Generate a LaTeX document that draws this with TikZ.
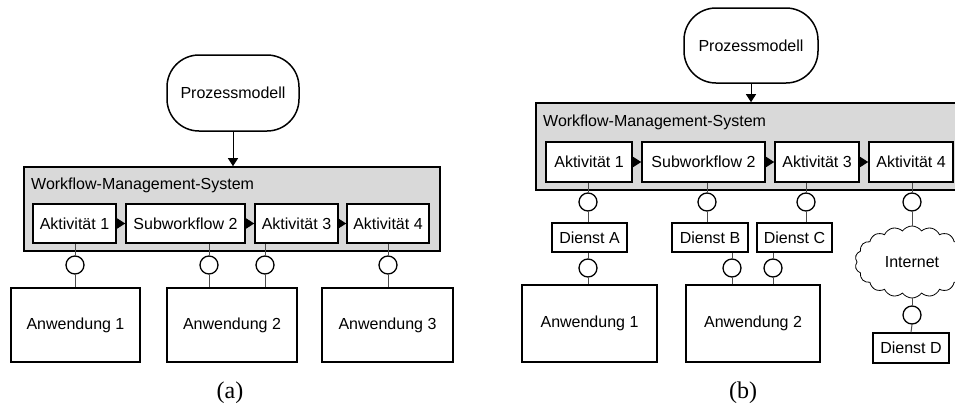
\documentclass[tikz,border=0pt]{standalone}
\usepackage{fontspec}
\newfontfamily\diagfont{Liberation Sans}
\newfontfamily\capfont{Liberation Serif}
\usetikzlibrary{arrows.meta,shapes.symbols}

\tikzset{
  every node/.style={inner sep=0pt},
  diag/.style={font=\diagfont\fontsize{16}{19}\selectfont},
  wms/.style={draw, fill=black!15, line width=1.6pt},
  wmslabel/.style={diag, anchor=west},
  act/.style={diag, draw, fill=white, line width=1.6pt},
  appbox/.style={diag, draw, fill=white, line width=1.6pt},
  svc/.style={diag, draw, fill=white, line width=1.5pt, minimum height=29},
  iface/.style={circle, draw, fill=white, line width=1.3pt, minimum size=18},
  conn/.style={draw=black!70, line width=1pt},
  flow/.style={-{Triangle[length=8pt,width=10pt]}, line width=1pt},
  model/.style={diag, draw, fill=white, line width=1.5pt, rounded corners=32pt},
  net/.style={diag, cloud, draw, fill=white, line width=0.8pt, cloud puffs=18,
    cloud puff arc=110, aspect=1.55, minimum width=114, minimum height=72},
  subcap/.style={font=\capfont\fontsize{24}{28}\selectfont}
}

\begin{document}
\begin{tikzpicture}[x=1pt,y=-1pt]
\useasboundingbox (0,0) rectangle (955,407);
\clip (0,0) rectangle (955,407);

% ---------- (a) ----------
\node[model, minimum width=132, minimum height=76] (pma) at (233,93) {Prozessmodell};
\node[wms, minimum width=416, minimum height=84] (wmsa) at (232,209) {};
\node[wmslabel] (wmsla) at (31,185) {Workflow-Management-System};
\node[act, minimum width=83, minimum height=39] (a1a) at (74.5,223.5) {Aktivität 1};
\node[act, minimum width=119, minimum height=39] (a2a) at (185.5,223.5) {Subworkflow 2};
\node[act, minimum width=83, minimum height=39] (a3a) at (296.5,223.5) {Aktivität 3};
\node[act, minimum width=82, minimum height=39] (a4a) at (388,223.5) {Aktivität 4};
\draw[flow] (pma.south) -- (wmsa.north -| pma.south);
\draw[flow] (a1a.east) -- (a2a.west);
\draw[flow] (a2a.east) -- (a3a.west);
\draw[flow] (a3a.east) -- (a4a.west);

\node[appbox, minimum width=129, minimum height=74] (app1a) at (75.5,325) {Anwendung 1};
\node[appbox, minimum width=130, minimum height=74] (app2a) at (232,325) {Anwendung 2};
\node[appbox, minimum width=131, minimum height=74] (app3a) at (387.5,325) {Anwendung 3};

\node[iface] (i1a) at (75,265) {};
\node[iface] (i2a) at (209,265) {};
\node[iface] (i3a) at (265,265) {};
\node[iface] (i4a) at (388,265) {};

\draw[conn] (i1a.north) -- (i1a.north |- a1a.south);
\draw[conn] (i2a.north) -- (i2a.north |- a2a.south);
\draw[conn] (i3a.north) -- (i3a.north |- a3a.south);
\draw[conn] (i4a.north) -- (i4a.north |- a4a.south);
\draw[conn] (i1a.south) -- (i1a.south |- app1a.north);
\draw[conn] (i2a.south) -- (i2a.south |- app2a.north);
\draw[conn] (i3a.south) -- (i3a.south |- app2a.north);
\draw[conn] (i4a.south) -- (i4a.south |- app3a.north);

\node[subcap] (capa) at (230,393) {(a)};

% ---------- (b) ----------
\node[model, minimum width=134, minimum height=75] (pmb) at (751,45.5) {Prozessmodell};
\node[wms, minimum width=426, minimum height=87] (wmsb) at (749,146.5) {};
\node[wmslabel] (wmslb) at (543,122) {Workflow-Management-System};
\node[act, minimum width=86, minimum height=40] (a1b) at (589,162) {Aktivität 1};
\node[act, minimum width=123, minimum height=40] (a2b) at (703.5,162) {Subworkflow 2};
\node[act, minimum width=84, minimum height=40] (a3b) at (817,162) {Aktivität 3};
\node[act, minimum width=84, minimum height=40] (a4b) at (911,162) {Aktivität 4};
\draw[flow] (pmb.south) -- (wmsb.north -| pmb.south);
\draw[flow] (a1b.east) -- (a2b.west);
\draw[flow] (a2b.east) -- (a3b.west);
\draw[flow] (a3b.east) -- (a4b.west);

\node[svc, minimum width=75] (da) at (589.5,237.5) {Dienst A};
\node[svc, minimum width=76] (db) at (710,237.5) {Dienst B};
\node[svc, minimum width=75] (dc) at (794.5,237.5) {Dienst C};
\node[net] (inet) at (912,262) {Internet};
\node[svc, minimum width=76, minimum height=30] (dd) at (911,348) {Dienst D};

\node[appbox, minimum width=135, minimum height=77] (app1b) at (589.5,323.5) {Anwendung 1};
\node[appbox, minimum width=134, minimum height=77] (app2b) at (753,323.5) {Anwendung 2};

\node[iface] (i1b) at (588,202) {};
\node[iface] (i2b) at (707,202) {};
\node[iface] (i3b) at (806,202) {};
\node[iface] (i4b) at (912,202) {};
\node[iface] (j1b) at (588,268) {};
\node[iface] (j2b) at (732,268) {};
\node[iface] (j3b) at (773,268) {};
\node[iface] (j4b) at (912,315) {};

\draw[conn] (i1b.north) -- (i1b.north |- a1b.south);
\draw[conn] (i2b.north) -- (i2b.north |- a2b.south);
\draw[conn] (i3b.north) -- (i3b.north |- a3b.south);
\draw[conn] (i4b.north) -- (i4b.north |- a4b.south);
\draw[conn] (i1b.south) -- (i1b.south |- da.north);
\draw[conn] (i2b.south) -- (i2b.south |- db.north);
\draw[conn] (i3b.south) -- (i3b.south |- dc.north);
\draw[conn] (i4b.south) -- (inet.north);
\draw[conn] (j1b.north) -- (j1b.north |- da.south);
\draw[conn] (j2b.north) -- (j2b.north |- db.south);
\draw[conn] (j3b.north) -- (j3b.north |- dc.south);
\draw[conn] (j1b.south) -- (j1b.south |- app1b.north);
\draw[conn] (j2b.south) -- (j2b.south |- app2b.north);
\draw[conn] (j3b.south) -- (j3b.south |- app2b.north);
\draw[conn] (j4b.north) -- (inet.south);
\draw[conn] (j4b.south) -- (dd.north);

\node[subcap] (capb) at (743,393) {(b)};
\end{tikzpicture}
\end{document}
